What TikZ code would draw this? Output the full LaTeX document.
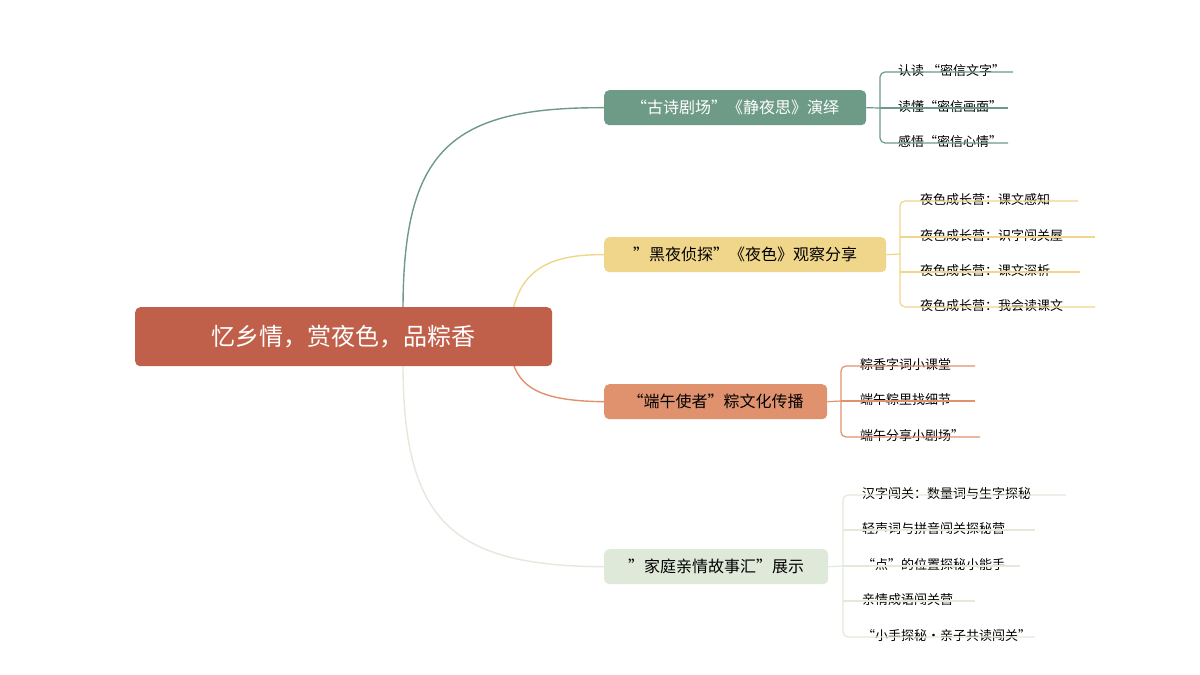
\documentclass[tikz,border=0pt]{standalone}
\usepackage{fontspec}
\setmainfont{Noto Sans CJK SC}
\begin{document}
\begin{tikzpicture}[x=1pt,y=-1pt,
  box/.style={rounded corners=5pt,inner sep=0pt,anchor=north west},
  leaf/.style={anchor=south west,font=\fontsize{13}{15}\selectfont,inner sep=0pt,yshift=-5pt},
  con/.style={line width=1.4pt},
  bl/.style={line width=1.2pt,rounded corners=5pt}]
\definecolor{cR}{HTML}{C1604A}
\definecolor{cT}{HTML}{6E9A88}
\definecolor{cY}{HTML}{F0D68A}
\definecolor{cO}{HTML}{E0926E}
\definecolor{cG}{HTML}{DFE9DA}
\definecolor{cGl}{HTML}{E2EADC}
\useasboundingbox (0,0) rectangle (1200,675);
\fill[white] (0,0) rectangle (1200,675);
% curves
\coordinate (r1) at (403,310); \coordinate (r2) at (513,310);
\coordinate (r3) at (513,363); \coordinate (r4) at (403,363);
\node[box,fill=cT,minimum width=262pt,minimum height=35pt,text=white,font=\fontsize{16}{18}\selectfont] (b1) at (604,90) {“古诗剧场”《静夜思》演绎};
\node[box,fill=cY,minimum width=282pt,minimum height=35pt,font=\fontsize{16}{18}\selectfont] (b2) at (604,237) {"黑夜侦探"《夜色》观察分享};
\node[box,fill=cO,minimum width=223pt,minimum height=35pt,font=\fontsize{16}{18}\selectfont] (b3) at (604,384) {“端午使者”粽文化传播};
\node[box,fill=cG,minimum width=224pt,minimum height=35pt,font=\fontsize{16}{18}\selectfont] (b4) at (604,549) {"家庭亲情故事汇"展示};
\draw[con,cT] (r1) .. controls (403,150) and (450,107) .. (b1.west);
\draw[con,cY] (r2) .. controls (522,270) and (550,254) .. (b2.west);
\draw[con,cO] (r3) .. controls (522,392) and (550,401) .. (b3.west);
\draw[con,cGl] (r4) .. controls (403,520) and (450,566) .. (b4.west);
\node[box,fill=cR,minimum width=417pt,minimum height=59pt,text=white,font=\fontsize{24}{28}\selectfont] (root) at (135,307) {忆乡情，赏夜色，品粽香};
% branch 1 leaves
\node[leaf] (l11) at (898,72) {认读 “密信文字”};
\node[leaf] (l12) at (898,108) {读懂“密信画面”};
\node[leaf] (l13) at (898,143) {感悟“密信心情”};
\coordinate (e11) at (1013,72); \coordinate (e12) at (1008,108); \coordinate (e13) at (1008,143);
\draw[bl,cT] (b1.east) -- (880,108);
\draw[bl,cT] (e11) -- (880,72) -- (880,143) -- (e13);
\draw[bl,cT] (880,108) -- (e12);
% branch 2
\node[leaf] (l21) at (920,201) {夜色成长营：课文感知};
\node[leaf] (l22) at (920,237) {夜色成长营：识字闯关屋};
\node[leaf] (l23) at (920,272) {夜色成长营：课文深析};
\node[leaf] (l24) at (920,307) {夜色成长营：我会读课文};
\coordinate (e21) at (1078,201); \coordinate (e22) at (1095,237); \coordinate (e23) at (1080,272); \coordinate (e24) at (1095,307);
\draw[bl,cY] (b2.east) -- (900,254);
\draw[bl,cY] (e21) -- (900,201) -- (900,307) -- (e24);
\draw[bl,cY] (900,237) -- (e22); \draw[bl,cY] (900,272) -- (e23);
% branch 3
\node[leaf] (l31) at (860,366) {粽香字词小课堂};
\node[leaf] (l32) at (860,401) {端午粽里找细节};
\node[leaf] (l33) at (860,437) {端午分享小剧场”};
\coordinate (e31) at (975,366); \coordinate (e32) at (975,401); \coordinate (e33) at (980,437);
\draw[bl,cO] (b3.east) -- (841,401);
\draw[bl,cO] (e31) -- (841,366) -- (841,437) -- (e33);
\draw[bl,cO] (841,401) -- (e32);
% branch 4
\node[leaf] (l41) at (862,495) {汉字闯关：数量词与生字探秘};
\node[leaf] (l42) at (862,530) {轻声词与拼音闯关探秘营};
\node[leaf] (l43) at (862,566) {“点”的位置探秘小能手};
\node[leaf] (l44) at (862,601) {亲情成语闯关营};
\node[leaf] (l45) at (862,637) {“小手探秘·亲子共读闯关”};
\coordinate (e41) at (1066,495); \coordinate (e42) at (1035,530); \coordinate (e43) at (1020,566); \coordinate (e44) at (975,601); \coordinate (e45) at (1035,637);
\draw[bl,cGl] (b4.east) -- (843,566);
\draw[bl,cGl] (e41) -- (843,495) -- (843,637) -- (e45);
\draw[bl,cGl] (843,530) -- (e42); \draw[bl,cGl] (843,566) -- (e43); \draw[bl,cGl] (843,601) -- (e44);
\end{tikzpicture}
\end{document}
